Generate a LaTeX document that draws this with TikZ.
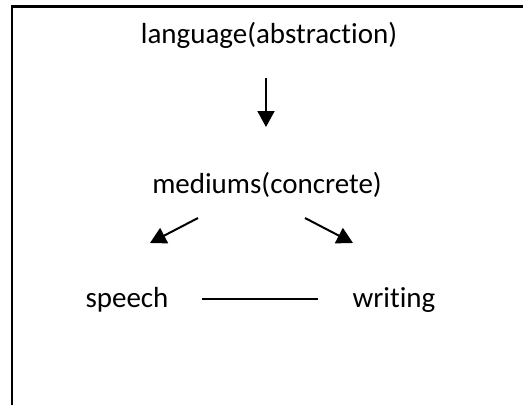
\documentclass[tikz,border=0pt]{standalone}
\usepackage{fontspec}
\setmainfont{Carlito}[Ligatures=NoCommon]
\usetikzlibrary{arrows.meta}
\newcommand\nolig{\kern0pt }
\begin{document}
\begin{tikzpicture}[x=1pt,y=-1pt,
  lbl/.style={inner sep=0pt, anchor=base, font=\fontsize{29}{34}\selectfont},
  arr/.style={line width=2pt, -{Triangle[length=16pt,width=17pt]}},
  plain/.style={line width=1.6pt}]
\useasboundingbox (0,0) rectangle (523,405);
\draw[line width=2.2pt] (12,405) -- (12,6.5) -- (523,6.5);
\node[lbl] (lang) at (269,43) {language(abstract\nolig ion)};
\node[lbl] (med) at (267,193) {mediums(concrete)};
\node[lbl] (sp) at (127,307) {speech};
\node[lbl] (wr) at (394,307) {writ\nolig ing};
\coordinate (a1s) at (266,78);
\coordinate (a1e) at (266,127);
\draw[arr] (a1s) -- (a1e);
\coordinate (a2s) at (198,218);
\coordinate (a2e) at (150,243);
\draw[arr] (a2s) -- (a2e);
\coordinate (a3s) at (305,218);
\coordinate (a3e) at (353,243);
\draw[arr] (a3s) -- (a3e);
\coordinate (ls) at (202,299);
\coordinate (le) at (318,299);
\draw[plain] (ls) -- (le);
\end{tikzpicture}
\end{document}
